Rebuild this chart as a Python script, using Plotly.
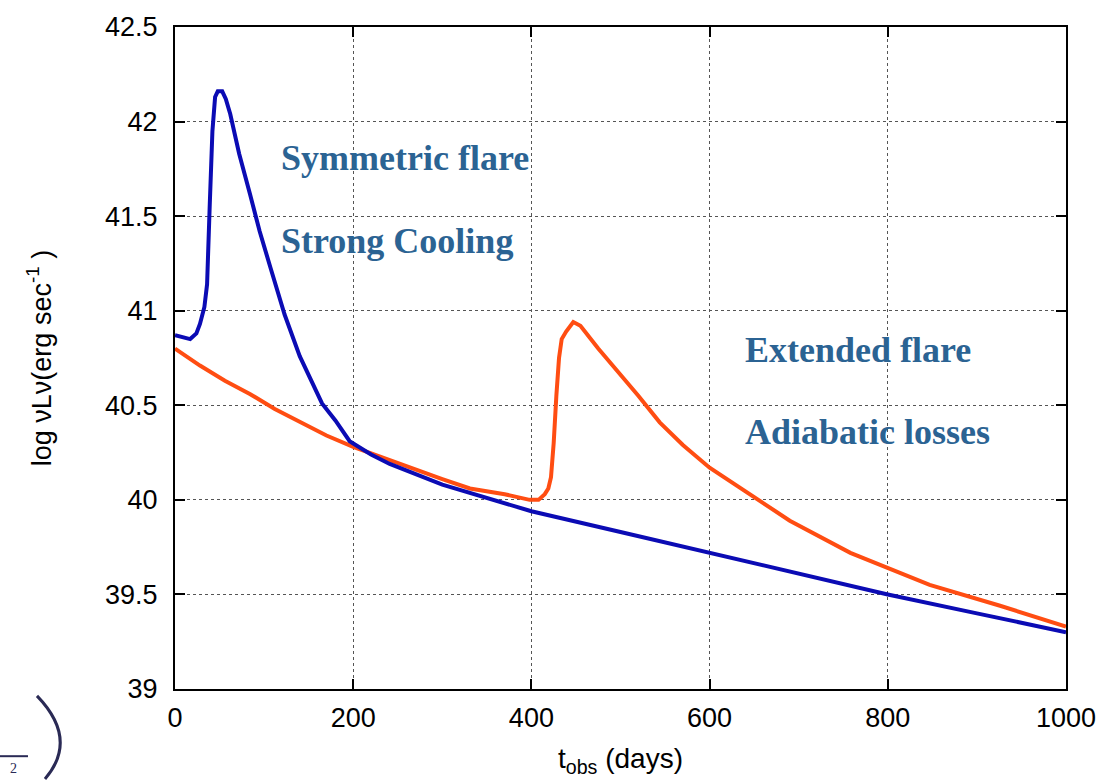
import plotly.graph_objects as go

# Symmetric flare with strong cooling (blue)
t_sym = [0, 10, 17, 24, 28, 33, 36, 39, 42, 45, 48, 53, 57, 62, 72, 84, 95, 107, 123, 140,
         165, 180, 196, 220, 241, 300, 400, 500, 600, 700, 800, 900, 1000]
l_sym = [40.87, 40.86, 40.85, 40.88, 40.93, 41.02, 41.14, 41.56, 41.95, 42.13, 42.16, 42.16,
         42.12, 42.04, 41.83, 41.62, 41.42, 41.23, 40.98, 40.76, 40.51, 40.42, 40.31, 40.24,
         40.19, 40.08, 39.94, 39.83, 39.72, 39.61, 39.50, 39.40, 39.30]

# Extended flare with adiabatic losses (orange)
t_ext = [0, 28, 56, 84, 112, 140, 170, 200, 252, 300, 331, 370, 398, 408, 415, 419, 422, 425,
         428, 431, 434, 439, 447, 455, 475, 499, 520, 544, 570, 600, 645, 690, 758, 800, 847,
         926, 1000]
l_ext = [40.80, 40.71, 40.63, 40.56, 40.48, 40.41, 40.34, 40.28, 40.19, 40.11, 40.06, 40.03,
         40.00, 40.00, 40.03, 40.06, 40.12, 40.30, 40.55, 40.75, 40.85, 40.89, 40.94, 40.92,
         40.80, 40.67, 40.55, 40.41, 40.29, 40.17, 40.03, 39.89, 39.72, 39.64, 39.55, 39.44,
         39.33]

x_ticks = [0, 200, 400, 600, 800, 1000]
y_ticks = [39, 39.5, 40, 40.5, 41, 41.5, 42, 42.5]
y_tick_text = ["39", "39.5", "40", "40.5", "41", "41.5", "42", "42.5"]

notes = [
    (117, 41.81, "Symmetric flare"),
    (117, 41.37, "Strong Cooling"),
    (638, 40.79, "Extended flare"),
    (638, 40.36, "Adiabatic losses"),
]

fig = go.Figure()
fig.add_trace(go.Scatter(x=t_ext, y=l_ext, mode="lines",
                         line=dict(color="#ff4d12", width=4), showlegend=False))
fig.add_trace(go.Scatter(x=t_sym, y=l_sym, mode="lines",
                         line=dict(color="#0b0bb4", width=4), showlegend=False))

for x, y, s in notes:
    fig.add_annotation(x=x, y=y, text=f"<b>{s}</b>", showarrow=False, xanchor="left",
                       font=dict(family="Liberation Serif", size=36, color="#2b6393"))

axis_common = dict(showline=True, linecolor="black", linewidth=2, mirror="ticks",
                   ticks="inside", ticklen=10, tickwidth=1.5, tickcolor="black",
                   showgrid=True, gridcolor="#555555", griddash="dot", gridwidth=1,
                   zeroline=False,
                   tickfont=dict(family="Liberation Sans", size=27, color="black"))

fig.update_xaxes(range=[0, 1000], tickvals=x_ticks, ticklabelstandoff=4, **axis_common,
                 title=dict(text="t<sub>obs</sub> (days)", standoff=16,
                            font=dict(family="Liberation Sans", size=28, color="black")))
fig.update_yaxes(range=[39, 42.5], tickvals=y_ticks, ticktext=y_tick_text,
                 ticklabelstandoff=10, **axis_common,
                 title=dict(text="log νLν(erg sec<sup>-1</sup> )", standoff=46,
                            font=dict(family="Liberation Sans", size=27, color="black")))

# fragment of a neighbouring equation in the lower-left corner
fig.add_shape(type="path", xref="paper", yref="paper",
              path="M -0.1549 -0.0104 Q -0.1077 -0.0761 -0.1459 -0.1358",
              line=dict(color="#2a2a55", width=3))
fig.add_shape(type="line", xref="paper", yref="paper",
              x0=-0.197, x1=-0.165, y0=-0.1015, y1=-0.1015,
              line=dict(color="#2a2a55", width=2))
fig.add_annotation(xref="paper", yref="paper", x=-0.181, y=-0.1060, text="2",
                   showarrow=False, xanchor="center", yanchor="top",
                   font=dict(family="Liberation Serif", size=14, color="#2a2a55"))

fig.update_layout(width=1117, height=781, paper_bgcolor="white", plot_bgcolor="white",
                  margin=dict(l=175, r=51, t=20, b=91))

fig.write_html("out.html")
